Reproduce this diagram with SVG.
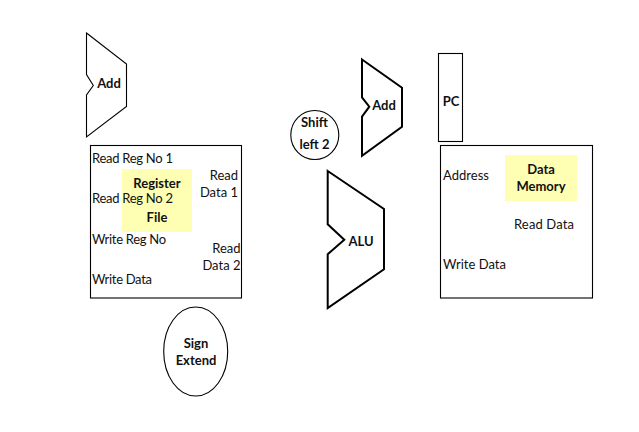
<svg xmlns="http://www.w3.org/2000/svg" width="639" height="432" viewBox="0 0 639 432">
<style>
text{font-family:Lato,"Open Sans","Liberation Sans",sans-serif;font-size:13px;fill:#111}
.b{font-weight:700;text-anchor:middle}
.e{text-anchor:end}
.s{fill:#fff;stroke:#000;stroke-width:1.1}
.t{fill:#fff;stroke:#000;stroke-width:2}
.y{fill:#ffffb3}
</style>
<rect width="639" height="432" fill="#fff"/>
<g id="add-1">
<path class="s" d="M86.5 33L126.5 64V106.5L86.5 137V95L93.3 85.5L86.5 74.5Z"/>
<text class="b" x="109" y="88">Add</text>
</g>
<g id="register-file">
<rect class="s" x="90.5" y="145.5" width="151" height="152.5"/>
<rect class="y" x="122" y="169" width="70" height="63"/>
<text class="b" x="157" y="188">Register</text>
<text class="b" x="157" y="222">File</text>
<text x="92" y="163" textLength="81">Read Reg No 1</text>
<text x="92" y="203" textLength="81">Read Reg No 2</text>
<text x="92" y="244" textLength="74">Write Reg No</text>
<text x="92" y="284" textLength="60">Write Data</text>
<text class="e" x="238" y="180">Read</text>
<text class="e" x="238" y="197">Data 1</text>
<text class="e" x="240.5" y="253">Read</text>
<text class="e" x="240.5" y="270">Data 2</text>
</g>
<g id="sign-extend">
<ellipse class="s" cx="195.7" cy="351.5" rx="32" ry="44.5"/>
<text class="b" x="196" y="348">Sign</text>
<text class="b" x="196" y="365">Extend</text>
</g>
<g id="shift-left-2">
<ellipse class="s" cx="314.8" cy="135" rx="24" ry="24.5"/>
<text class="b" x="314.5" y="127">Shift</text>
<text class="b" x="314.5" y="149">left 2</text>
</g>
<g id="add-2">
<path class="t" d="M362 59.5L402 87.7V126.7L362 155.7V116.7L369.3 106.7L362 97.3Z"/>
<text class="b" x="384" y="110">Add</text>
</g>
<g id="pc">
<rect class="s" x="438.5" y="53.5" width="24" height="88"/>
<text class="b" x="451" y="106">PC</text>
</g>
<g id="alu">
<path class="t" d="M327.7 171L384 209V269.3L327.7 308V254.3L344.3 239.7L327.7 224.3Z"/>
<text class="b" x="361" y="246">ALU</text>
</g>
<g id="data-memory">
<rect class="s" x="440.5" y="145.5" width="152" height="152.5"/>
<rect class="y" x="505" y="155" width="72" height="46"/>
<text class="b" x="541" y="174">Data</text>
<text class="b" x="541" y="191">Memory</text>
<text x="443" y="180" textLength="46">Address</text>
<text x="514" y="229" textLength="60">Read Data</text>
<text x="443" y="269" textLength="63">Write Data</text>
</g>
<g id="connectors"></g>
</svg>
